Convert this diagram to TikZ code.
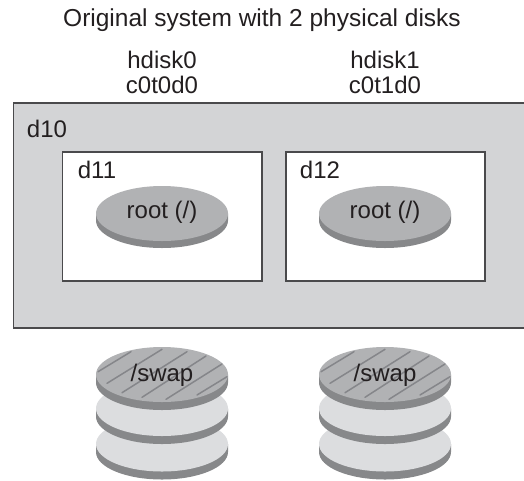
\documentclass[tikz,border=0pt]{standalone}
\usepackage{fontspec}
\setmainfont{Liberation Sans}
\definecolor{panel}{HTML}{D3D4D6}
\definecolor{edge}{HTML}{4A4A4C}
\definecolor{disktop}{HTML}{B1B2B4}
\definecolor{diskside}{HTML}{87888A}
\definecolor{lighttop}{HTML}{DCDDDF}
\definecolor{hatch}{HTML}{85868A}
\definecolor{ink}{HTML}{231F20}
\tikzset{
  lbl/.style={text=ink,font=\fontsize{24}{25}\selectfont,inner sep=0pt},
  panelbox/.style={draw=edge,line width=1.3pt,fill=panel},
  innerbox/.style={draw=edge,line width=1.1pt,fill=white},
}
% #1 x, #2 y of the centre of the top face, #3 rx, #4 ry, #5 thickness, #6 top colour
\newcommand{\platter}[6]{%
  \fill[diskside] (#1-#3,#2) -- (#1-#3,#2+#5) arc[start angle=180,end angle=0,x radius=#3,y radius=#4]
     -- (#1+#3,#2) -- cycle;
  \fill[#6] (#1,#2) ellipse[x radius=#3,y radius=#4];
}
\newcommand{\hatchline}[5]{%
  \draw[hatch,line width=1.5pt,line cap=round] (#1+#2,#3) -- (#1+#4,#5);
}
\newcommand{\stack}[2]{%
  \platter{#1}{444}{66}{27.5}{8}{lighttop}
  \platter{#1}{408.5}{66}{27.5}{8}{lighttop}
  \platter{#1}{374.5}{66}{27.5}{8}{disktop}
  \hatchline{#1}{-64}{371.7}{-31}{351.7}
  \hatchline{#1}{-55}{383.3}{0}{349.3}
  \hatchline{#1}{-40}{392.7}{25}{351.7}
  \hatchline{#1}{-20}{397.3}{44}{356}
  \hatchline{#1}{4}{399.3}{60}{364}
  \hatchline{#1}{35}{395}{65}{376.7}
  \node[lbl] (#2) at (#1,375.5) {/swap};
}
\begin{document}
\begin{tikzpicture}[x=1pt,y=-1pt]
\useasboundingbox (0,0) rectangle (524,480);
\node[lbl,font=\fontsize{24.5}{25}\selectfont] (title) at (262,20) {Original system with 2 physical disks};
\node[lbl,align=center] (h0) at (162,72.5) {hdisk0\\c0t0d0};
\node[lbl,align=center] (h1) at (385,72.5) {hdisk1\\c0t1d0};
\draw[panelbox] (530,103) -- (13.5,103) -- (13.5,328) -- (530,328);
\node[lbl] (d10) at (47,128.5) {d10};
\draw[innerbox] (62.5,152) rectangle (262,281);
\draw[innerbox] (286,152) rectangle (485,281);
\node[lbl] (d11) at (97,169.5) {d11};
\node[lbl] (d12) at (320,169.5) {d12};
\platter{162}{213.5}{66}{27.5}{7}{disktop}
\platter{385}{213.5}{66}{27.5}{7}{disktop}
\node[lbl] (r1) at (162,212) {root (/)};
\node[lbl] (r2) at (385,212) {root (/)};
\stack{162}{s1}
\stack{385}{s2}
\end{tikzpicture}
\end{document}
